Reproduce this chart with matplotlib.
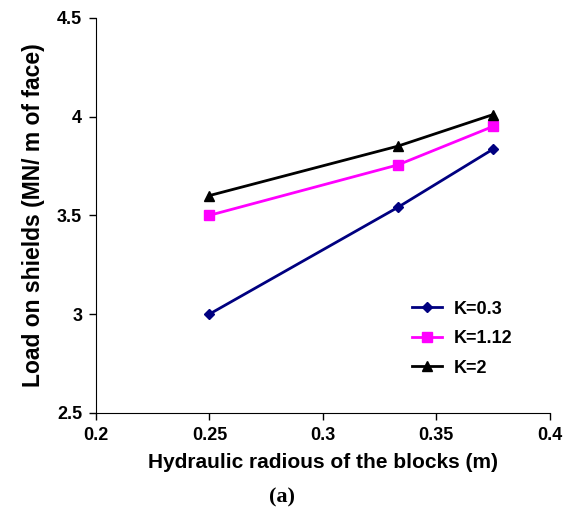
import matplotlib
matplotlib.use("Agg")
import matplotlib.pyplot as plt

# Hydraulic radius of the blocks (m)
radius = [0.25, 0.333, 0.375]

# Load on shields (MN/m of face) for each K value
load_k03 = [3.0, 3.54, 3.835]
load_k112 = [3.5, 3.755, 3.95]
load_k2 = [3.6, 3.85, 4.01]

plt.rcParams["font.family"] = ["Liberation Sans", "DejaVu Sans"]
plt.rcParams["font.weight"] = "bold"

fig = plt.figure(figsize=(5.65, 5.09), dpi=100)
ax = fig.add_axes([0.170, 0.189, 0.803, 0.776])

ax.plot(radius, load_k03, color="#000080", marker="D", markersize=5, lw=2, label="K=0.3")
ax.plot(radius, load_k112, color="#FF00FF", marker="s", markersize=7.5, lw=2, label="K=1.12")
ax.plot(radius, load_k2, color="black", marker="^", markersize=7.5, lw=2, label="K=2")

ax.set_xlim(0.2, 0.4)
ax.set_ylim(2.5, 4.5)
ax.set_xticks([0.2, 0.25, 0.3, 0.35, 0.4])
ax.set_xticklabels(["0.2", "0.25", "0.3", "0.35", "0.4"])
ax.set_yticks([2.5, 3, 3.5, 4, 4.5])
ax.set_yticklabels(["2.5", "3", "3.5", "4", "4.5"])
ax.tick_params(direction="out", length=5, width=1, labelsize=13, pad=5)
for lbl in ax.get_xticklabels() + ax.get_yticklabels():
    lbl.set_fontweight("bold")

ax.spines["top"].set_visible(False)
ax.spines["right"].set_visible(False)

ax.set_xlabel("Hydraulic radious of the blocks (m)", fontsize=15, fontweight="bold", labelpad=7)
ax.set_ylabel("Load on shields (MN/ m of face)", fontsize=16.5, fontweight="bold", labelpad=9)

ax.legend(loc="lower left", bbox_to_anchor=(0.66, 0.05), frameon=False,
          fontsize=13, handlelength=1.7, handletextpad=0.6, labelspacing=0.7)

fig.text(0.5, 0.012, "(a)", ha="center", fontsize=16, fontweight="bold",
         family=["Liberation Serif", "DejaVu Serif"])

fig.savefig("out.png", dpi=100)
